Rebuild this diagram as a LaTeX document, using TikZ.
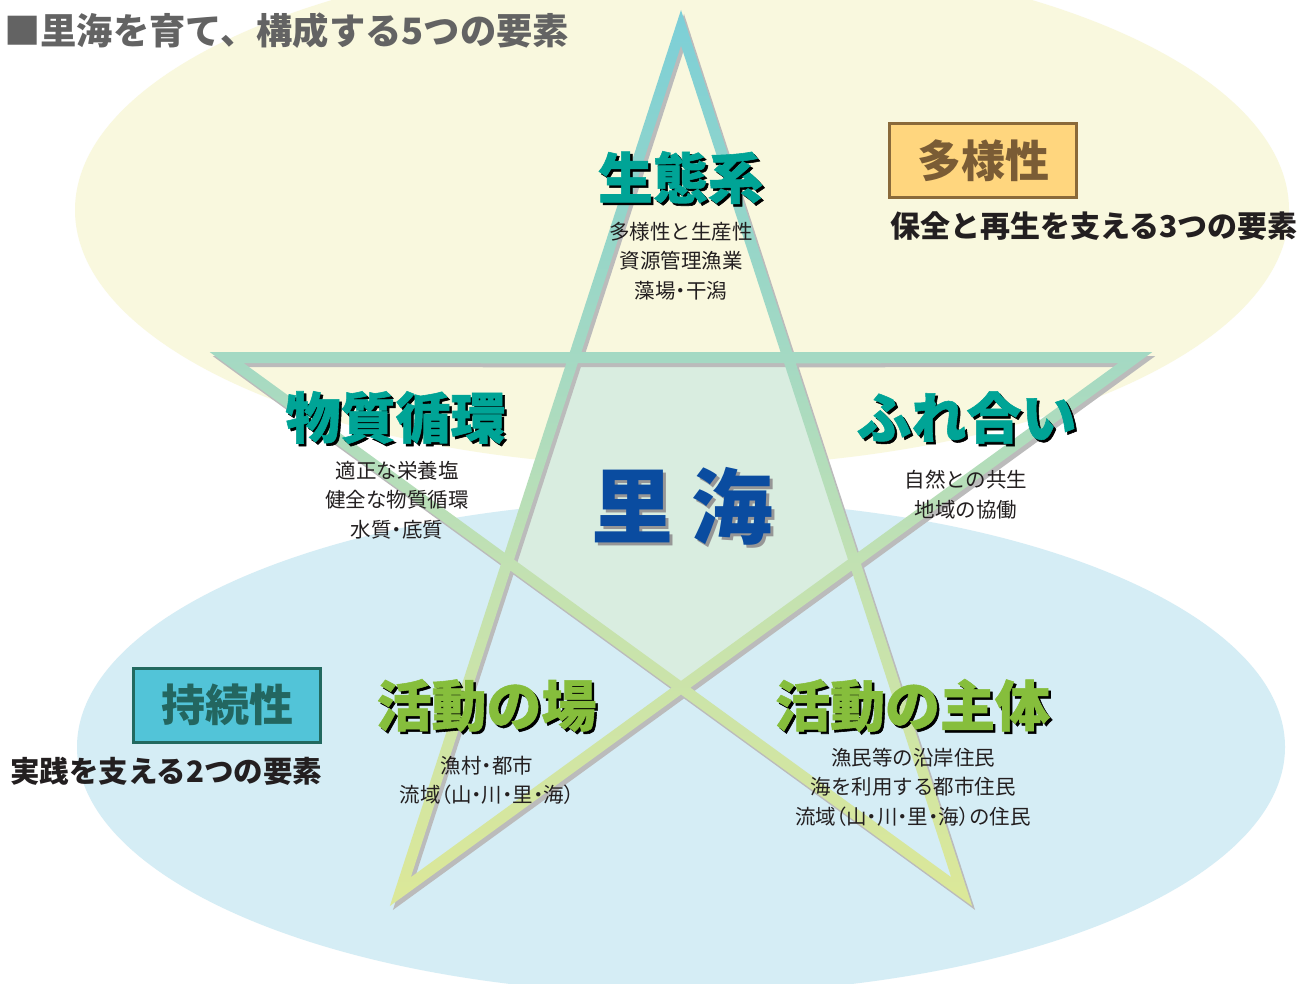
\documentclass[tikz,border=0pt]{standalone}
\usepackage{fontspec}
\setmainfont{Noto Sans CJK JP}
\newfontfamily\jp{Noto Sans CJK JP}
\newfontfamily\jpp{Noto Sans CJK JP}[RawFeature=+palt]
\newfontfamily\jph{Noto Sans CJK JP}[BoldFeatures={FakeBold=1}]
\newcommand\pp[1]{{\jpp #1}}
\definecolor{creamc}{HTML}{F9F8DE}
\definecolor{bluec}{HTML}{D5EDF5}
\definecolor{pentc}{HTML}{D9EDE0}
\definecolor{shadowc}{HTML}{BBBBBB}
\definecolor{sy1}{HTML}{DCE898}
\definecolor{sy2}{HTML}{C2E1B2}
\definecolor{sy3}{HTML}{A4D9C3}
\definecolor{sy4}{HTML}{8FD4CB}
\definecolor{sy5}{HTML}{7CCFD8}
\definecolor{tealc}{HTML}{00A496}
\definecolor{greenc}{HTML}{86BE3C}
\definecolor{blueT}{HTML}{0A4CA0}
\definecolor{titlec}{HTML}{636363}
\definecolor{textc}{HTML}{231F20}
\definecolor{orfill}{HTML}{FFD67E}
\definecolor{ordraw}{HTML}{8A6A3A}
\definecolor{ortext}{HTML}{7A5C35}
\definecolor{cyfill}{HTML}{52C4D8}
\definecolor{cydraw}{HTML}{22695F}
\definecolor{cytext}{HTML}{236660}
\pgfdeclareverticalshading{starshade}{100bp}{color(0bp)=(sy1); color(25bp)=(sy1); color(44bp)=(sy2); color(55.6bp)=(sy3); color(65.5bp)=(sy4); color(75bp)=(sy5); color(100bp)=(sy5)}
\def\starpath{(-90:495.3) -- (-54:189.19) -- (-18:495.3) -- (18:189.19) -- (54:495.3) -- (90:189.19) -- (126:495.3) -- (162:189.19) -- (198:495.3) -- (234:189.19) -- cycle
 (-90:459.71) -- (-56.94:182.63) -- (-123.06:182.63) -- cycle
 (-18:459.71) -- (15.06:182.63) -- (-51.06:182.63) -- cycle
 (54:459.71) -- (87.06:182.63) -- (20.94:182.63) -- cycle
 (126:459.71) -- (159.06:182.63) -- (92.94:182.63) -- cycle
 (198:459.71) -- (231.06:182.63) -- (164.94:182.63) -- cycle
 (-54:175.59) -- (18:175.59) -- (90:175.59) -- (162:175.59) -- (234:175.59) -- cycle}
\tikzset{
  head/.style={font=\jph\bfseries\fontsize{55}{60}\selectfont, inner sep=0pt},
  hshadow/.style={head, text=black},
  subtxt/.style={font=\jp\fontsize{20.5}{29.5}\selectfont, align=center, text=textc, inner sep=0pt},
  caption/.style={font=\jp\bfseries\fontsize{30}{34}\selectfont, text=textc, inner sep=0pt},
  keybox/.style={line width=3pt, minimum width=187pt, minimum height=74pt, inner sep=0pt, font=\jp\bfseries\fontsize{44}{48}\selectfont},
}
\begin{document}
\begin{tikzpicture}[x=1pt,y=-1pt]
\useasboundingbox (0,0) rectangle (1301,984);
\fill[white] (0,0) rectangle (1301,984);
\begin{scope}
\clip (0,0) rectangle (1301,984);
\fill[creamc] (682,210) ellipse [x radius=607, y radius=257];
\fill[bluec] (681,747) ellipse [x radius=604, y radius=247];
\end{scope}
% star
\begin{scope}[shift={(681,505.3)}]
\fill[pentc] (-54:182.39) -- (18:182.39) -- (90:182.39) -- (162:182.39) -- (234:182.39) -- cycle;
\fill[shadowc, even odd rule, shift={(3,4)}] \starpath;
\shade[shading=starshade, even odd rule] \starpath;
\end{scope}
% title
\node[anchor=west, font=\jp\bfseries\fontsize{36.3}{40}\selectfont, text=titlec, inner sep=0pt] (title) at (4,31) {■里海を育て、構成する5つの要素};
% centre
\node[font=\jp\bfseries\fontsize{82}{88}\selectfont, text=shadowc!80!black, inner sep=0pt] (satoS) at (685.5,509) {里 海};
\node[font=\jp\bfseries\fontsize{82}{88}\selectfont, text=blueT, inner sep=0pt] (sato) at (682.5,506) {里 海};
% headings
\node[hshadow] (h1s) at (683,180) {生態系};
\node[head, text=tealc] (h1) at (680.5,177.5) {生態系};
\node[subtxt] (t1) at (681,261) {多様性と生産性\\資源管理漁業\\藻場\pp{・}干潟};
\node[hshadow] (h2s) at (398,420) {物質循環};
\node[head, text=tealc] (h2) at (395.5,417.5) {物質循環};
\node[subtxt] (t2) at (397,500) {適正な栄養塩\\健全な物質循環\\水質\pp{・}底質};
\node[hshadow] (h3s) at (969,420) {ふれ合い};
\node[head, text=tealc] (h3) at (966.5,417.5) {ふれ合い};
\node[subtxt] (t3) at (966,494.5) {自然との共生\\地域の協働};
\node[hshadow] (h4s) at (489,708) {活動の場};
\node[head, text=greenc] (h4) at (486.5,705.5) {活動の場};
\node[subtxt] (t4) at (487,780.5) {漁村\pp{・}都市\\流域\pp{（山・川・里・海）}};
\node[hshadow] (h5s) at (915,708) {活動の主体};
\node[head, text=greenc] (h5) at (912.5,705.5) {活動の主体};
\node[subtxt] (t5) at (913,787) {漁民等の沿岸住民\\海を利用する都市住民\\流域\pp{（山・川・里・海）}の住民};
% key boxes
\node[keybox, draw=ordraw, fill=orfill, text=ortext] (b1) at (983,160.5) {多様性};
\node[caption, anchor=west] (c1) at (890,226) {保全と再生を支える3つの要素};
\node[keybox, draw=cydraw, fill=cyfill, text=cytext] (b2) at (227,705) {持続性};
\node[caption, anchor=west, font=\jp\bfseries\fontsize{29.5}{33}\selectfont] (c2) at (10,771) {実践を支える2つの要素};
\end{tikzpicture}
\end{document}
